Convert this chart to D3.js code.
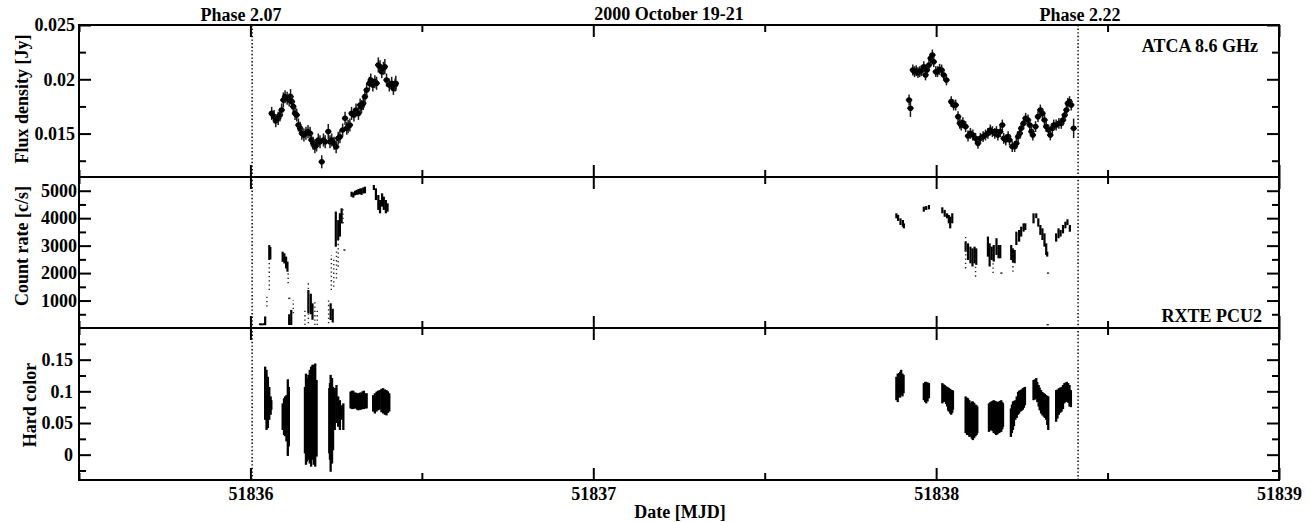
<!DOCTYPE html>
<html><head><meta charset="utf-8">
<script src="https://cdn.jsdelivr.net/npm/d3@7"></script>
<style>
html,body{margin:0;padding:0;background:#fff;}
svg{display:block;}
text{font-family:"Liberation Serif","Times New Roman",serif;font-weight:bold;fill:#000;}
</style></head>
<body>
<svg id="chart" width="1310" height="522"></svg>
<script>
// ---------------- DATA ----------------
const xDomain = [51835.5, 51839];
const xMajorTicks = [51836, 51837, 51838, 51839];
const xMinorTicks = [51835.5, 51836.5, 51837.5, 51838.5];
const phaseLines = [51836.005, 51838.414];
const topLabels = ["Phase 2.07", "2000 October 19-21", "Phase 2.22"];

const fluxDomain = [0.011, 0.025];
const fluxMajorTicks = [0.015, 0.02, 0.025];
const fluxMinorTicks = [0.0125, 0.0175, 0.0225];

const rateDomain = [0, 5500];
const rateMajorTicks = [1000, 2000, 3000, 4000, 5000];
const rateMinorTicks = [500, 1500, 2500, 3500, 4500];

const hcDomain = [-0.04, 0.2];
const hcMajorTicks = [0, 0.05, 0.1, 0.15];
const hcMinorTicks = [-0.025, 0.025, 0.075, 0.125, 0.175];

// ATCA 8.6 GHz: [MJD, flux (Jy), error (Jy)]
const atcaFirst = [
 [51836.062,0.01686,0.0006],[51836.069,0.01656,0.0006],[51836.074,0.01619,0.0006],[51836.081,0.01640,0.0006],
 [51836.086,0.01671,0.0006],[51836.091,0.01717,0.0006],[51836.096,0.01809,0.0007],[51836.101,0.01840,0.0006],
 [51836.107,0.01825,0.0006],[51836.113,0.01809,0.0006],[51836.117,0.01840,0.0007],[51836.121,0.01794,0.0006],
 [51836.125,0.01748,0.0006],[51836.130,0.01686,0.0006],[51836.135,0.01671,0.0006],[51836.140,0.01579,0.0006],
 [51836.145,0.01548,0.0006],[51836.150,0.01502,0.0006],[51836.156,0.01487,0.0006],[51836.162,0.01502,0.0006],
 [51836.168,0.01518,0.0006],[51836.174,0.01502,0.0006],[51836.178,0.01441,0.0006],[51836.183,0.01410,0.0006],
 [51836.188,0.01379,0.0006],[51836.193,0.01395,0.0006],[51836.198,0.01441,0.0006],[51836.203,0.01425,0.0006],
 [51836.208,0.01240,0.0006],[51836.213,0.01441,0.0006],[51836.218,0.01425,0.0006],[51836.227,0.01518,0.0007],
 [51836.232,0.01425,0.0006],[51836.237,0.01441,0.0006],[51836.244,0.01410,0.0006],[51836.250,0.01379,0.0006],
 [51836.256,0.01456,0.0006],[51836.261,0.01471,0.0006],[51836.269,0.01533,0.0006],[51836.276,0.01640,0.0006],
 [51836.281,0.01548,0.0006],[51836.285,0.01564,0.0006],[51836.290,0.01579,0.0006],[51836.295,0.01686,0.0006],
 [51836.302,0.01671,0.0006],[51836.308,0.01717,0.0006],[51836.315,0.01686,0.0006],[51836.320,0.01763,0.0006],
 [51836.324,0.01748,0.0006],[51836.329,0.01778,0.0006],[51836.334,0.01840,0.0006],[51836.339,0.01901,0.0006],
 [51836.347,0.01963,0.0006],[51836.351,0.01993,0.0006],[51836.357,0.01947,0.0006],[51836.363,0.01978,0.0006],
 [51836.368,0.01963,0.0006],[51836.373,0.02132,0.0007],[51836.378,0.02116,0.0006],[51836.383,0.02070,0.0006],
 [51836.388,0.02101,0.0006],[51836.392,0.02116,0.0007],[51836.397,0.01993,0.0006],[51836.405,0.01947,0.0006],
 [51836.412,0.01963,0.0006],[51836.417,0.01916,0.0006],[51836.422,0.01947,0.0006],[51836.424,0.01963,0.0007]
];
const atcaSecond = [
 [51837.921,0.01809,0.0005],[51837.925,0.01733,0.0008],[51837.932,0.02086,0.0005],[51837.937,0.02070,0.0005],
 [51837.942,0.02079,0.0005],[51837.947,0.02061,0.0005],[51837.952,0.02070,0.0005],[51837.957,0.02079,0.0005],
 [51837.964,0.02116,0.0005],[51837.969,0.02040,0.0005],[51837.973,0.02086,0.0005],[51837.979,0.02132,0.0005],
 [51837.984,0.02193,0.0005],[51837.989,0.02224,0.0005],[51837.993,0.02162,0.0005],[51837.999,0.02070,0.0005],
 [51838.004,0.02070,0.0005],[51838.010,0.02092,0.0005],[51838.016,0.02086,0.0005],[51838.022,0.02040,0.0005],
 [51838.030,0.01994,0.0005],[51838.044,0.01794,0.0005],[51838.051,0.01763,0.0005],[51838.057,0.01763,0.0005],
 [51838.064,0.01656,0.0005],[51838.069,0.01594,0.0005],[51838.073,0.01579,0.0005],[51838.078,0.01600,0.0005],
 [51838.086,0.01564,0.0005],[51838.093,0.01478,0.0005],[51838.100,0.01502,0.0005],[51838.107,0.01487,0.0005],
 [51838.115,0.01456,0.0005],[51838.122,0.01410,0.0005],[51838.129,0.01456,0.0005],[51838.137,0.01472,0.0005],
 [51838.144,0.01487,0.0005],[51838.151,0.01502,0.0005],[51838.158,0.01533,0.0005],[51838.164,0.01518,0.0005],
 [51838.171,0.01502,0.0005],[51838.176,0.01518,0.0005],[51838.180,0.01487,0.0005],[51838.187,0.01518,0.0005],
 [51838.193,0.01579,0.0005],[51838.197,0.01456,0.0005],[51838.203,0.01441,0.0005],[51838.210,0.01472,0.0005],
 [51838.214,0.01441,0.0005],[51838.222,0.01380,0.0005],[51838.229,0.01380,0.0005],[51838.234,0.01410,0.0005],
 [51838.239,0.01472,0.0005],[51838.244,0.01502,0.0005],[51838.248,0.01548,0.0005],[51838.255,0.01594,0.0005],
 [51838.261,0.01641,0.0005],[51838.268,0.01625,0.0005],[51838.273,0.01579,0.0005],[51838.278,0.01518,0.0005],
 [51838.282,0.01487,0.0005],[51838.290,0.01564,0.0005],[51838.297,0.01656,0.0005],[51838.304,0.01717,0.0005],
 [51838.310,0.01686,0.0005],[51838.316,0.01625,0.0005],[51838.321,0.01564,0.0005],[51838.328,0.01533,0.0005],
 [51838.333,0.01487,0.0005],[51838.339,0.01548,0.0005],[51838.343,0.01579,0.0005],[51838.350,0.01579,0.0005],
 [51838.358,0.01594,0.0005],[51838.365,0.01594,0.0005],[51838.370,0.01625,0.0005],[51838.375,0.01671,0.0005],
 [51838.380,0.01717,0.0005],[51838.384,0.01778,0.0005],[51838.389,0.01794,0.0005],[51838.394,0.01763,0.0005],
 [51838.401,0.01548,0.0009]
];

// RXTE PCU2 count rate: densely sampled stretches [MJD, low, high] (c/s)
const rateDense = [
 [51836.028,100,170],[51836.032,100,170],[51836.036,100,160],[51836.040,110,170],[51836.043,100,420],
 [51836.055,2480,3020],[51836.058,2500,2950],
 [51836.094,2410,2780],[51836.099,2350,2720],[51836.104,2170,2600],[51836.108,2050,2420],
 [51836.113,110,500],[51836.119,110,660],
 [51836.169,535,1385],[51836.176,500,1250],[51836.181,300,900],
 [51836.234,290,900],[51836.240,200,700],
 [51836.249,2960,4240],[51836.256,3200,3930],[51836.261,3330,4180],[51836.266,3810,4360],
 [51836.295,4780,4965],[51836.300,4750,4940],[51836.305,4830,5000],[51836.310,4850,5030],[51836.315,4860,5060],
 [51836.320,4880,5080],[51836.324,4845,5087],[51836.329,4900,5120],[51836.334,4905,5148],
 [51836.360,5027,5209],[51836.366,4660,5087],[51836.373,4300,4844],[51836.378,4177,4662],[51836.384,4420,4905],
 [51836.389,4300,4784],[51836.395,4177,4662],[51836.400,4237,4541],
 [51837.884,3995,4177],[51837.889,3900,4120],[51837.896,3752,3995],[51837.903,3690,3933],[51837.906,3630,3810],
 [51837.964,4237,4420],[51837.971,4300,4440],[51837.979,4323,4480],
 [51838.018,4177,4396],[51838.025,4050,4300],[51838.032,3995,4177],[51838.037,3812,4116],[51838.041,3630,4055],[51838.047,3812,4180],
 [51838.086,2780,3150],[51838.093,2477,3084],[51838.100,2355,2963],[51838.106,2240,2900],[51838.112,2355,2963],[51838.117,2300,2900],
 [51838.151,2600,3330],[51838.156,2240,3084],[51838.162,2477,2963],[51838.168,2420,3023],[51838.176,2660,3270],[51838.182,2540,3023],[51838.187,2540,3023],
 [51838.219,2477,3023],[51838.224,2400,2900],[51838.229,2360,2840],[51838.234,3023,3510],[51838.242,3145,3570],[51838.248,3330,3690],[51838.255,3510,3812],[51838.260,3570,3812],
 [51838.284,3812,4177],[51838.292,4000,4177],[51838.298,3690,3995],[51838.304,3390,3752],[51838.310,3205,3630],[51838.316,2963,3448],[51838.321,2660,3084],[51838.324,2600,2780],
 [51838.350,3145,3448],[51838.357,3270,3630],[51838.363,3330,3570],[51838.370,3448,3752],[51838.377,3630,3873],[51838.383,3750,3960],[51838.390,3508,3752]
];
// RXTE PCU2 count rate: sparsely sampled stretches [MJD, low, high]
const rateSparse = [
 [51836.048,780,1200],[51836.055,1380,2480],
 [51836.110,1630,2000],[51836.125,535,1020],
 [51836.159,110,660],[51836.169,170,1630],[51836.188,110,1020],[51836.195,110,660],
 [51836.228,170,1020],[51836.236,1385,2660],[51836.243,1500,2500],[51836.251,1800,2900],[51836.256,2235,3205],[51836.270,3810,4420],
 [51838.086,2170,3330],[51838.115,1870,2600],[51838.166,2000,2500],[51838.224,2050,2900]
];
// isolated count-rate points [MJD, rate]
const rateDots = [
 [51836.113,1080],[51836.274,2840],[51838.190,2000],[51838.326,2000],[51838.325,120]
];

// Hard color: vertical extent of the points [MJD, low, high]
const hardColor = [
 [51836.043,0.055,0.139],[51836.047,0.039,0.134],[51836.051,0.042,0.123],[51836.055,0.055,0.107],[51836.059,0.063,0.092],[51836.061,0.071,0.086],
 [51836.094,0.039,0.081],[51836.098,0.031,0.089],[51836.101,0.029,0.092],[51836.105,0.021,0.094],[51836.109,-0.002,0.119],[51836.112,0.013,0.107],
 [51836.159,0.002,0.107],[51836.162,-0.016,0.128],[51836.165,-0.011,0.121],[51836.169,-0.008,0.126],[51836.173,-0.014,0.134],
 [51836.177,-0.019,0.139],[51836.181,-0.008,0.142],[51836.185,-0.016,0.142],[51836.189,-0.019,0.144],[51836.193,-0.003,0.118],
 [51836.230,0.002,0.105],[51836.232,-0.008,0.113],[51836.234,-0.027,0.126],[51836.238,-0.014,0.121],[51836.241,0.007,0.107],
 [51836.246,0.039,0.105],[51836.251,0.050,0.110],[51836.256,0.044,0.092],[51836.261,0.039,0.086],[51836.266,0.055,0.078],[51836.271,0.039,0.081],
 [51836.292,0.073,0.0996],[51836.296,0.072,0.101],[51836.300,0.072,0.101],[51836.304,0.073,0.098],[51836.307,0.073,0.098],
 [51836.311,0.071,0.097],[51836.315,0.070,0.097],[51836.319,0.071,0.098],[51836.323,0.071,0.098],[51836.327,0.072,0.100],
 [51836.331,0.072,0.101],[51836.335,0.073,0.097],[51836.339,0.073,0.097],
 [51836.358,0.068,0.094],[51836.363,0.065,0.097],[51836.368,0.068,0.0995],[51836.372,0.070,0.101],[51836.377,0.071,0.102],
 [51836.382,0.067,0.104],[51836.387,0.065,0.105],[51836.392,0.063,0.103],[51836.397,0.062,0.102],[51836.401,0.066,0.100],[51836.405,0.068,0.097],
 [51837.884,0.086,0.123],[51837.888,0.083,0.128],[51837.892,0.091,0.129],[51837.895,0.090,0.131],[51837.898,0.094,0.134],[51837.902,0.092,0.128],[51837.905,0.097,0.126],
 [51837.964,0.086,0.113],[51837.968,0.083,0.115],[51837.971,0.081,0.115],[51837.975,0.084,0.114],[51837.979,0.089,0.113],
 [51838.018,0.081,0.113],[51838.022,0.083,0.111],[51838.025,0.084,0.110],[51838.029,0.080,0.108],[51838.032,0.076,0.107],[51838.035,0.070,0.106],
 [51838.037,0.068,0.105],[51838.041,0.065,0.104],[51838.044,0.063,0.102],[51838.047,0.066,0.102],[51838.049,0.071,0.101],
 [51838.086,0.034,0.092],[51838.090,0.031,0.090],[51838.093,0.031,0.089],[51838.097,0.028,0.086],[51838.100,0.029,0.081],[51838.104,0.025,0.084],
 [51838.107,0.023,0.084],[51838.111,0.026,0.082],[51838.115,0.029,0.079],[51838.118,0.031,0.078],[51838.120,0.034,0.076],
 [51838.154,0.036,0.081],[51838.158,0.038,0.083],[51838.161,0.039,0.084],[51838.165,0.037,0.085],[51838.168,0.034,0.086],[51838.172,0.033,0.085],
 [51838.175,0.031,0.084],[51838.179,0.032,0.083],[51838.183,0.034,0.084],[51838.186,0.035,0.085],[51838.190,0.036,0.086],[51838.193,0.040,0.083],[51838.195,0.044,0.081],
 [51838.218,0.028,0.073],[51838.221,0.034,0.079],[51838.224,0.039,0.084],[51838.227,0.045,0.085],[51838.231,0.055,0.086],[51838.235,0.058,0.092],
 [51838.239,0.063,0.099],[51838.242,0.065,0.101],[51838.246,0.068,0.102],[51838.249,0.069,0.103],[51838.253,0.071,0.105],[51838.256,0.074,0.106],[51838.259,0.078,0.107],
 [51838.284,0.086,0.118],[51838.288,0.087,0.119],[51838.292,0.089,0.121],[51838.295,0.083,0.115],[51838.299,0.076,0.110],[51838.302,0.070,0.106],
 [51838.306,0.065,0.102],[51838.310,0.062,0.099],[51838.314,0.060,0.097],[51838.317,0.058,0.096],[51838.321,0.055,0.094],[51838.324,0.047,0.093],[51838.327,0.039,0.092],
 [51838.350,0.052,0.102],[51838.354,0.057,0.103],[51838.358,0.063,0.105],[51838.362,0.066,0.106],[51838.366,0.068,0.107],[51838.370,0.072,0.110],
 [51838.374,0.081,0.113],[51838.378,0.083,0.114],[51838.381,0.084,0.115],[51838.385,0.082,0.113],[51838.389,0.076,0.110],[51838.393,0.075,0.102]
];

// ---------------- LAYOUT ----------------
const L = 79, R = 1279;
const panels = [
  {top: 25, bottom: 177}, {top: 177, bottom: 328}, {top: 328, bottom: 480}
];
const FONT = "18px";

const svg = d3.select("#chart");
const x = d3.scaleLinear().domain(xDomain).range([L, R]);
const yF = d3.scaleLinear().domain(fluxDomain).range([panels[0].bottom, panels[0].top]);
const yR = d3.scaleLinear().domain(rateDomain).range([panels[1].bottom, panels[1].top]);
const yH = d3.scaleLinear().domain(hcDomain).range([panels[2].bottom, panels[2].top]);

function styleAxis(g, showText) {
  g.select(".domain").remove();
  g.selectAll(".tick line").attr("stroke", "#000").attr("stroke-width", 2);
  g.selectAll("text").style("font-family", '"Liberation Serif","Times New Roman",serif')
    .style("font-weight", "bold").style("font-size", FONT).attr("fill", "#000");
  if (!showText) g.selectAll("text").remove();
}

function drawFrame(p, y, major, minor, fmt, labelPad, showXLabels) {
  svg.append("g").attr("transform", `translate(${L},0)`)
    .call(d3.axisLeft(y).tickValues(major).tickSize(-12).tickSizeOuter(0).tickPadding(labelPad).tickFormat(fmt))
    .call(g => styleAxis(g, true));
  svg.append("g").attr("transform", `translate(${L},0)`)
    .call(d3.axisLeft(y).tickValues(minor).tickSize(-7).tickSizeOuter(0).tickFormat(""))
    .call(g => styleAxis(g, false));
  svg.append("g").attr("transform", `translate(${R},0)`)
    .call(d3.axisRight(y).tickValues(major).tickSize(-12).tickSizeOuter(0).tickFormat(""))
    .call(g => styleAxis(g, false));
  svg.append("g").attr("transform", `translate(${R},0)`)
    .call(d3.axisRight(y).tickValues(minor).tickSize(-7).tickSizeOuter(0).tickFormat(""))
    .call(g => styleAxis(g, false));
  svg.append("g").attr("transform", `translate(0,${p.top})`)
    .call(d3.axisTop(x).tickValues(xMajorTicks).tickSize(-12).tickSizeOuter(0).tickFormat(""))
    .call(g => styleAxis(g, false));
  svg.append("g").attr("transform", `translate(0,${p.top})`)
    .call(d3.axisTop(x).tickValues(xMinorTicks).tickSize(-7).tickSizeOuter(0).tickFormat(""))
    .call(g => styleAxis(g, false));
  svg.append("g").attr("transform", `translate(0,${p.bottom})`)
    .call(d3.axisBottom(x).tickValues(xMajorTicks).tickSize(-12).tickSizeOuter(0).tickPadding(7).tickFormat(d3.format("d")))
    .call(g => styleAxis(g, showXLabels));
  svg.append("g").attr("transform", `translate(0,${p.bottom})`)
    .call(d3.axisBottom(x).tickValues(xMinorTicks).tickSize(-7).tickSizeOuter(0).tickFormat(""))
    .call(g => styleAxis(g, false));
}

// ---- Panel 1: ATCA ----
const g1 = svg.append("g");
[atcaFirst, atcaSecond].forEach(series => {
  const pt = g1.selectAll(null).data(series).enter().append("g");
  pt.append("line").attr("x1", d => x(d[0])).attr("x2", d => x(d[0]))
    .attr("y1", d => yF(d[1] - d[2])).attr("y2", d => yF(d[1] + d[2]))
    .attr("stroke", "#1a1a1a").attr("stroke-width", 1.5);
  pt.append("line").attr("x1", d => x(d[0]) - 3.2).attr("x2", d => x(d[0]) + 3.2)
    .attr("y1", d => yF(d[1])).attr("y2", d => yF(d[1]))
    .attr("stroke", "#000").attr("stroke-width", 1.6);
  pt.append("circle").attr("cx", d => x(d[0])).attr("cy", d => yF(d[1])).attr("r", 2.8).attr("fill", "#000");
});

// ---- Panel 2: count rate ----
const g2 = svg.append("g");
g2.selectAll(null).data(rateDense).enter().append("line")
  .attr("x1", d => x(d[0])).attr("x2", d => x(d[0]))
  .attr("y1", d => yR(d[1])).attr("y2", d => yR(d[2]))
  .attr("stroke", "#000").attr("stroke-width", 2.2);
g2.selectAll(null).data(rateSparse).enter().append("line")
  .attr("x1", d => x(d[0])).attr("x2", d => x(d[0]))
  .attr("y1", d => yR(d[1])).attr("y2", d => yR(d[2]))
  .attr("stroke", "#222").attr("stroke-width", 1.4).attr("stroke-dasharray", "1.3,3");
g2.selectAll(null).data(rateDots).enter().append("rect")
  .attr("x", d => x(d[0]) - 1).attr("y", d => yR(d[1]) - 0.7).attr("width", 2.2).attr("height", 1.4).attr("fill", "#222");

// ---- Panel 3: hard color ----
const g3 = svg.append("g");
g3.selectAll(null).data(hardColor).enter().append("line")
  .attr("x1", d => x(d[0])).attr("x2", d => x(d[0]))
  .attr("y1", d => yH(d[1])).attr("y2", d => yH(d[2]))
  .attr("stroke", "#000").attr("stroke-width", 2.3);

// ---- Frames & axes ----
drawFrame(panels[0], yF, fluxMajorTicks, fluxMinorTicks, d => String(d), 4, false);
drawFrame(panels[1], yR, rateMajorTicks, rateMinorTicks, d => String(d), 2, false);
drawFrame(panels[2], yH, hcMajorTicks, hcMinorTicks, d => String(d), 6, true);

panels.forEach(p => {
  svg.append("rect").attr("x", L).attr("y", p.top).attr("width", R - L).attr("height", p.bottom - p.top)
    .attr("fill", "none").attr("stroke", "#000").attr("stroke-width", 2);
});

// Phase lines (dotted)
svg.selectAll(null).data(phaseLines).enter().append("line")
  .attr("x1", d => x(d)).attr("x2", d => x(d))
  .attr("y1", panels[0].top).attr("y2", panels[2].bottom)
  .attr("stroke", "#111").attr("stroke-width", 1.6).attr("stroke-dasharray", "1.4,2.2");

// Top labels
const topPos = [[241, 20.5], [669, 20], [1080, 20.5]];
svg.selectAll(null).data(topLabels).enter().append("text")
  .attr("x", (d, i) => topPos[i][0]).attr("y", (d, i) => topPos[i][1])
  .attr("text-anchor", "middle").style("font-size", FONT).text(d => d);

// In-panel labels
svg.append("text").attr("x", 1258).attr("y", 51.5).attr("text-anchor", "end").style("font-size", FONT).text("ATCA 8.6 GHz");
svg.append("text").attr("x", 1262).attr("y", 321.5).attr("text-anchor", "end").style("font-size", FONT).text("RXTE PCU2");

// Axis titles
svg.append("text").attr("transform", "translate(28,99) rotate(-90)").attr("text-anchor", "middle").style("font-size", FONT).text("Flux density [Jy]");
svg.append("text").attr("transform", "translate(28,246) rotate(-90)").attr("text-anchor", "middle").style("font-size", FONT).text("Count rate [c/s]");
svg.append("text").attr("transform", "translate(36,405) rotate(-90)").attr("text-anchor", "middle").style("font-size", FONT).text("Hard color");
svg.append("text").attr("x", 680).attr("y", 518).attr("text-anchor", "middle").style("font-size", FONT).text("Date [MJD]");
</script>
</body></html>
